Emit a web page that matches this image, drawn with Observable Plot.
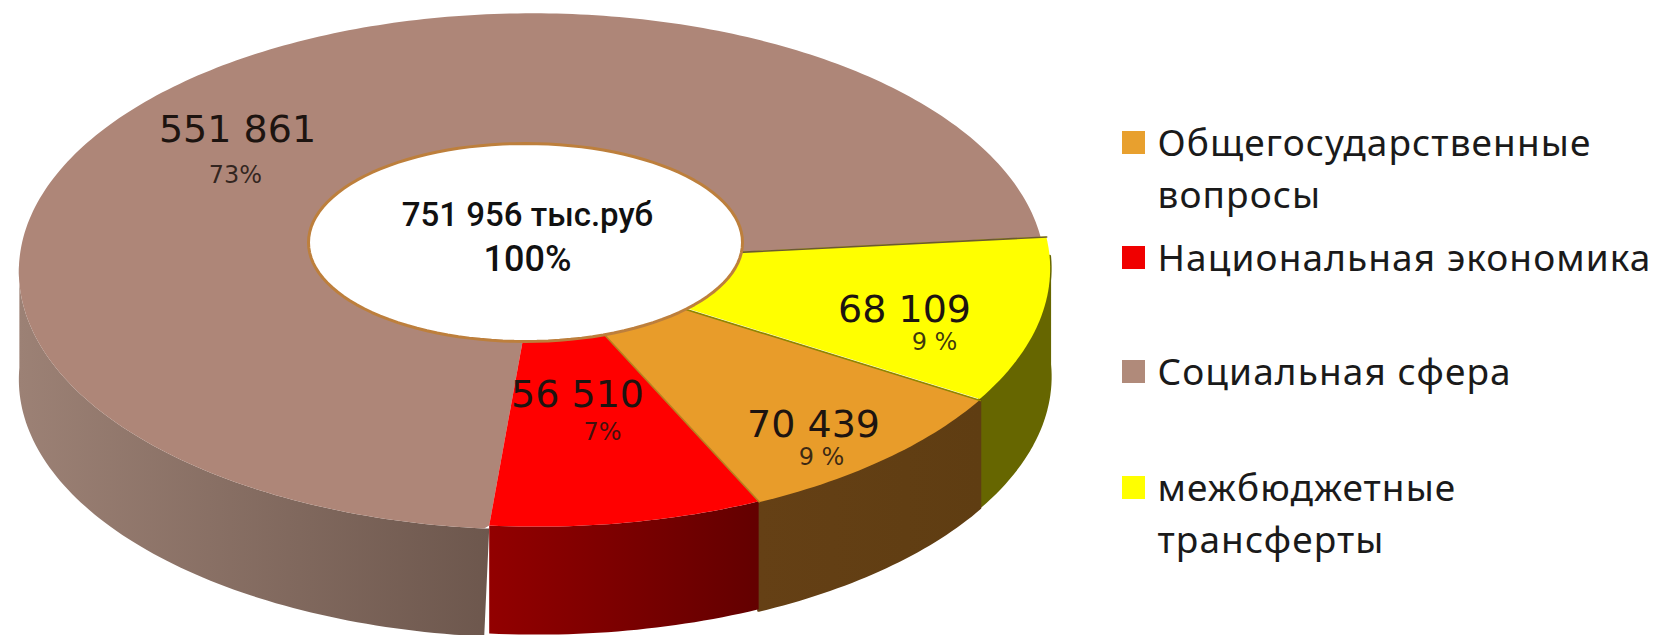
<!DOCTYPE html>
<html><head><meta charset="utf-8">
<script src="https://cdn.jsdelivr.net/npm/d3@7"></script>
<script src="https://cdn.jsdelivr.net/npm/@observablehq/plot@0.6"></script>
<style>html,body{margin:0;padding:0;background:#fff;overflow:hidden}</style>
</head><body><div id="chart"></div>
<script>
// Data, clockwise from the upper right of the pie
const categories = ["межбюджетные трансферты","Общегосударственные вопросы","Национальная экономика","Социальная сфера"];
const values = [68109, 70439, 56510, 551861];
const valueLabels = ["68 109","70 439","56 510","551 861"];
const percentLabels = ["9 %","9 %","7%","73%"];
const totalLabels = ["751 956 тыс.руб","100%"];
const legendOrder = [1,2,3,0];
const legendLines = [["Общегосударственные","вопросы"],["Национальная экономика"],["Социальная сфера"],["межбюджетные","трансферты"]];

// Styling and layout, kept apart from the data
const topColors = ["#ffff00","#e89c2a","#ff0000","#ae8678"];
const seamColors = ["#6b5a30","#8f8600","#b8801f"];
const swatchColors = ["#ffff00","#e8a02e","#f00000","#b08a7a"];
const wallStops = [["#666600","#666600"],["#654015","#5f3d12"],["#920000","#630000"],["#9c8175","#6d574d"]];
const C = {cx:530, cy:265, rx:513, ry:258, k:0.025, depth:108, start:1, warp:5.7};
const offsets = [[7,-3],[7,-2],[7,-3],[2,0]];
const nudges = [-1,2.5,-0.6,-0.3,-1];
const valuePos = [[904,309],[813,424],[577,394],[237,129]];
const percentPos = [[934,342],[821,457],[602,432],[235,175]];
const totalPos = [[527,215],[527,259]];
const totalSizes = [33,36];
const hole = {cx:525, cy:242, rx:217, ry:99};
const legendY = [144,259,373,489];
const legendStep = 52;

const rad = Math.PI/180;
const total = d3.sum(values);
const bounds = [C.start];
values.forEach(v=>bounds.push(bounds[bounds.length-1]+v/total*360));
const nudge = d3.scaleLinear(bounds,nudges);
const warp = a => a + C.warp*Math.sin((a-90)*rad) + nudge(a);
function project(a, i){
  const t = warp(a)*rad, f = 1/(1-C.k*Math.sin(t));
  return {t:warp(a), x:C.cx+offsets[i][0]+C.rx*f*Math.cos(t), y:C.cy+offsets[i][1]+C.ry*f*Math.sin(t)};
}
const slices = values.map((v,i)=>{
  const a0 = bounds[i], a1 = bounds[i+1];
  const n = Math.ceil(a1-a0);
  const outer = d3.range(n+1).map(j=>project(a0+(a1-a0)*j/n,i));
  const apex = {x:C.cx+offsets[i][0], y:C.cy+offsets[i][1]};
  return {i, apex, outer,
    seam:[apex, outer[0]],
    top: outer.map(p=>({x1:apex.x, y1:apex.y, x2:p.x, y2:p.y})),
    wall: outer.filter(p=>p.t>=-1.5 && p.t<=181.5).map(p=>({x1:p.x,x2:p.x,y1:p.y,y2:p.y+C.depth}))};
});
// The social slice closes up against the edge of the red one
const redEdge = slices[2].outer[slices[2].outer.length-1];
const social = slices[3];
social.top.unshift({x1:slices[2].apex.x,y1:slices[2].apex.y,x2:redEdge.x,y2:redEdge.y});
social.wall.unshift({x1:redEdge.x,x2:social.wall[0].x2,y1:social.wall[0].y1,y2:social.wall[0].y2});

function defs(){
  const ns="http://www.w3.org/2000/svg";
  const d=document.createElementNS(ns,"defs");
  wallStops.forEach((s,i)=>{
    const g=document.createElementNS(ns,"linearGradient");
    g.setAttribute("id","wall"+i);
    s.forEach((c,j)=>{const st=document.createElementNS(ns,"stop");st.setAttribute("offset",j);st.setAttribute("stop-color",c);g.appendChild(st);});
    d.appendChild(g);
  });
  return d;
}
const holeRing = d3.range(0,360,3).map(a=>({x:hole.cx+hole.rx*Math.cos(a*rad),y:hole.cy+hole.ry*Math.sin(a*rad)}));
const ink="#1d1410";
const sans="Roboto, 'Noto Sans', sans-serif";
const wide="'DejaVu Sans', sans-serif";
const order=[3,0,1,2];
const marks=[defs,
  ...order.map(i=>Plot.area(slices[i].wall,{x1:"x1",y1:"y1",x2:"x2",y2:"y2",fill:`url(#wall${i})`,stroke:i<2?`url(#wall${i})`:"none",strokeWidth:3})),
  ...order.map(i=>Plot.area(slices[i].top,{x1:"x1",y1:"y1",x2:"x2",y2:"y2",fill:topColors[i]})),
  ...[0,1,2].map(i=>Plot.line(slices[i].seam,{x:"x",y:"y",stroke:seamColors[i],strokeWidth:1.6})),
  Plot.line(holeRing,{x:"x",y:"y",fill:"white",stroke:"#bd7f3c",strokeWidth:3,curve:"linear-closed"}),
  Plot.text(valueLabels,{x:(d,i)=>valuePos[i][0],y:(d,i)=>valuePos[i][1],text:d=>d,fontSize:38,fontFamily:wide,fill:ink}),
  Plot.text(percentLabels,{x:(d,i)=>percentPos[i][0],y:(d,i)=>percentPos[i][1],text:d=>d,fontSize:24,fontFamily:wide,fill:ink,fillOpacity:0.85}),
  Plot.text(totalLabels,{x:(d,i)=>totalPos[i][0],y:(d,i)=>totalPos[i][1],text:d=>d,fontSize:(d,i)=>totalSizes[i],fontFamily:sans,fontWeight:500,fill:"#111"}),
  Plot.dot(legendOrder,{x:()=>1133,y:(d,i)=>legendY[i]-2,symbol:"square",r:13,fill:d=>swatchColors[d],stroke:"none"}),
  Plot.text(legendLines.flatMap((ls,i)=>ls.map((t,j)=>({t,y:legendY[i]+j*legendStep}))),{x:()=>1157,y:"y",text:"t",textAnchor:"start",fontSize:37,fontFamily:"'Noto Sans', sans-serif",fill:"#1a1a1a"})
];
const chart=Plot.plot({width:1662,height:635,margin:0,
  x:{domain:[0,1662],axis:null},y:{domain:[635,0],axis:null},
  color:{type:"identity"},style:{background:"#fff"},marks});
d3.select(chart).selectAll('g[font-size="37"] text').style("letter-spacing","1.1px");
document.getElementById("chart").appendChild(chart);
</script></body></html>
